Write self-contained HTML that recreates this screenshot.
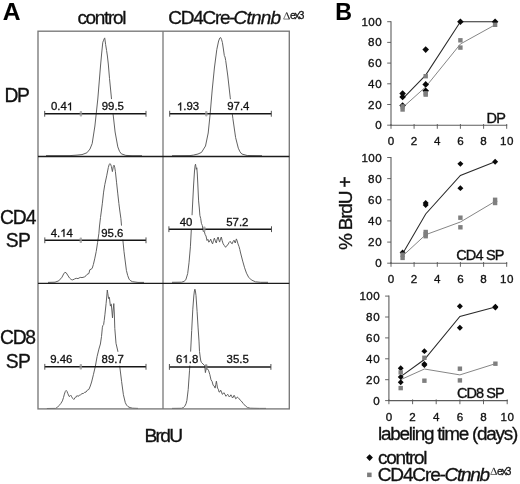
<!DOCTYPE html>
<html><head><meta charset="utf-8"><title>Figure</title>
<style>
html,body{margin:0;padding:0;background:#fff;}
body{width:520px;height:484px;overflow:hidden;font-family:"Liberation Sans", sans-serif;}
svg{display:block;position:absolute;left:0;top:0;will-change:transform;}
text{font-family:"Liberation Sans", sans-serif;}
</style></head><body>
<svg width="520" height="484" viewBox="0 0 520 484">
<rect x="0" y="0" width="520" height="484" fill="#ffffff"/>
<polyline points="46.0,155.6 70.0,155.6 76.0,155.2 82.0,154.6 86.9,152.8 90.0,149.0 92.2,143.5 94.9,126.0 97.8,99.0 100.5,66.0 101.6,54.0 102.3,47.0 102.8,42.3 103.6,40.2 104.3,38.6 104.7,37.9 105.0,40.0 105.6,44.4 106.6,50.6 107.4,56.0 108.3,64.0 109.5,78.4 112.4,107.9 115.1,132.0 117.8,146.9 119.5,151.3 121.3,153.8 125.8,155.4 132.0,155.7 142.0,155.7" fill="none" stroke="#585858" stroke-width="0.95" stroke-linejoin="round"/>
<polyline points="172.0,155.7 190.0,155.6 193.4,155.1 198.0,154.0 201.5,152.4 205.5,146.0 208.2,133.0 210.1,114.5 212.2,90.0 214.4,68.0 216.8,49.5 218.6,41.0 219.8,38.0 220.6,37.5 221.5,39.3 222.4,42.5 223.4,49.0 224.3,55.5 225.0,57.0 225.7,60.5 227.8,76.0 230.2,97.2 232.9,118.7 235.6,137.5 238.3,148.2 240.0,151.8 241.8,154.0 247.2,155.5 262.0,155.7" fill="none" stroke="#585858" stroke-width="0.95" stroke-linejoin="round"/>
<polyline points="48.0,282.4 55.0,282.2 58.8,280.8 62.0,277.2 63.6,274.0 64.9,272.3 66.2,272.8 67.6,275.0 69.5,278.0 71.2,279.5 72.7,279.9 74.5,279.0 76.2,278.3 78.0,278.6 80.2,277.4 82.0,277.6 84.3,277.0 86.0,275.8 87.0,274.4 88.9,273.5 89.8,269.8 91.0,269.2 92.2,268.4 93.4,264.4 94.7,258.9 96.2,251.6 97.6,242.4 98.9,233.3 99.5,226.0 100.5,217.5 102.3,203.8 103.6,192.1 104.8,184.6 106.7,175.8 108.3,167.6 109.1,164.8 109.8,163.6 110.6,164.2 111.4,166.5 112.4,171.6 113.3,166.5 114.0,165.2 114.7,167.2 115.4,171.6 116.6,182.8 117.8,193.9 118.6,201.0 118.9,203.6 119.7,210.0 120.9,218.5 121.9,230.1 124.0,251.6 126.4,270.4 127.7,275.5 129.1,279.2 130.8,280.9 132.6,281.7 138.0,282.4 144.0,282.4" fill="none" stroke="#585858" stroke-width="0.95" stroke-linejoin="round"/>
<polyline points="172.0,282.3 181.5,282.2 184.0,281.4 185.8,279.8 187.7,273.5 189.0,262.8 190.4,246.8 191.4,228.0 192.5,206.0 193.6,185.0 194.5,171.0 195.1,165.5 195.5,164.2 195.9,166.5 196.3,169.3 196.8,167.8 197.3,174.0 197.8,184.0 198.6,200.9 199.3,208.0 199.9,215.5 200.7,218.5 201.4,223.3 202.3,225.5 203.3,231.6 204.2,231.0 205.1,234.4 206.0,236.0 207.0,240.5 207.9,239.3 208.8,242.2 209.8,241.0 210.7,239.1 211.6,242.0 212.6,243.9 213.5,240.5 214.4,238.1 215.3,241.0 216.3,243.0 217.2,239.0 218.1,237.0 218.9,240.0 219.6,242.1 220.5,239.0 221.3,237.0 222.2,240.8 223.2,243.9 224.4,245.6 225.6,247.3 226.8,245.5 228.0,244.7 229.1,242.4 230.2,241.3 231.2,243.0 232.1,243.9 233.1,241.5 234.0,240.2 234.7,242.0 235.3,243.0 235.9,240.5 236.4,238.9 237.2,241.0 238.0,243.9 239.0,246.5 239.8,249.5 240.6,253.0 242.7,261.1 244.6,267.8 246.5,273.2 248.6,277.2 251.3,279.9 255.4,281.8 260.7,282.3 268.0,282.3" fill="none" stroke="#585858" stroke-width="0.95" stroke-linejoin="round"/>
<polyline points="46.9,408.5 55.7,408.4 57.5,407.2 59.0,405.6 60.8,403.5 62.4,400.9 63.5,397.5 64.4,394.1 65.3,391.5 66.2,390.4 67.0,391.4 67.8,393.5 69.1,396.4 70.0,396.2 70.9,395.3 71.7,396.8 72.5,398.2 73.8,399.5 74.9,398.0 75.9,396.6 76.6,396.9 77.2,395.5 78.0,396.4 78.5,396.2 79.5,395.0 80.6,394.8 82.0,393.6 83.3,393.5 84.7,392.3 86.0,392.1 87.3,390.2 88.9,389.4 90.3,386.0 91.6,382.0 93.4,374.7 95.3,366.5 97.1,356.5 98.9,349.1 100.4,344.0 101.5,336.5 102.4,327.2 103.0,325.3 103.6,324.7 104.2,320.5 104.9,314.8 106.1,303.6 106.8,296.0 107.3,290.0 107.8,293.5 108.6,298.6 109.0,297.2 109.4,297.4 110.4,306.1 110.9,304.5 111.3,304.2 112.0,312.0 112.5,317.9 113.0,311.0 113.8,303.6 114.3,313.0 114.8,328.4 116.0,343.3 117.8,351.0 119.7,366.0 121.6,381.5 123.4,394.7 125.3,402.7 126.5,405.0 128.0,406.6 130.0,407.6 132.6,408.2 138.0,408.4" fill="none" stroke="#585858" stroke-width="0.95" stroke-linejoin="round"/>
<polyline points="172.0,408.4 181.5,408.3 183.3,407.6 184.7,406.3 186.0,403.8 186.9,400.4 188.2,389.6 189.5,370.8 190.6,352.0 191.7,330.5 192.8,309.2 193.8,296.0 194.4,291.0 194.9,289.2 195.4,291.0 196.0,295.6 197.1,311.7 198.1,327.9 199.0,341.1 199.5,351.5 200.2,357.0 200.8,361.0 201.6,362.6 203.0,364.0 204.7,365.6 205.0,369.0 205.4,372.6 205.9,370.0 206.6,368.4 207.6,369.0 208.7,370.8 209.8,374.5 211.0,379.8 212.1,381.5 213.2,385.4 214.2,386.0 215.1,388.1 215.8,384.5 216.4,381.2 217.0,384.8 217.5,388.1 218.3,389.2 219.1,392.1 219.9,391.8 220.7,390.2 221.5,392.0 222.3,394.3 223.1,393.8 223.9,392.7 224.9,394.2 225.8,396.2 226.8,395.5 227.7,394.3 228.5,395.4 229.3,397.0 230.1,396.2 230.9,394.8 231.7,396.2 232.5,398.0 233.3,397.0 234.1,395.3 234.9,396.8 235.7,398.8 236.6,398.2 237.4,397.0 238.2,397.7 239.0,398.8 241.1,400.8 243.3,403.6 245.5,406.0 247.6,407.5 250.2,408.2 259.4,408.4 266.0,408.4" fill="none" stroke="#585858" stroke-width="0.95" stroke-linejoin="round"/>
<rect x="50.0" y="99.1" width="23.8" height="14.0" fill="#fff"/>
<rect x="100.9" y="99.1" width="23.8" height="14.0" fill="#fff"/>
<rect x="176.0" y="99.2" width="23.8" height="14.0" fill="#fff"/>
<rect x="226.3" y="99.2" width="23.8" height="14.0" fill="#fff"/>
<rect x="49.8" y="225.6" width="23.8" height="14.0" fill="#fff"/>
<rect x="100.3" y="225.6" width="23.8" height="14.0" fill="#fff"/>
<rect x="178.8" y="215.2" width="14.3" height="14.0" fill="#fff"/>
<rect x="225.4" y="215.2" width="23.8" height="14.0" fill="#fff"/>
<rect x="49.3" y="351.8" width="23.8" height="14.0" fill="#fff"/>
<rect x="100.7" y="351.8" width="23.8" height="14.0" fill="#fff"/>
<rect x="175.2" y="351.6" width="23.8" height="14.0" fill="#fff"/>
<rect x="225.7" y="351.6" width="23.8" height="14.0" fill="#fff"/>
<rect x="38.0" y="31.2" width="251.3" height="377.7" fill="none" stroke="#787878" stroke-width="1.35"/>
<line x1="163.0" y1="31.2" x2="163.0" y2="408.9" stroke="#787878" stroke-width="1.3"/>
<line x1="38.0" y1="156.5" x2="289.3" y2="156.5" stroke="#1c1c1c" stroke-width="1.35"/>
<line x1="38.0" y1="283.3" x2="289.3" y2="283.3" stroke="#1c1c1c" stroke-width="1.35"/>
<line x1="44.7" y1="113.8" x2="146.0" y2="113.8" stroke="#161616" stroke-width="1.45"/>
<line x1="44.7" y1="110.9" x2="44.7" y2="116.7" stroke="#4a4a4a" stroke-width="0.95"/>
<line x1="146.0" y1="110.9" x2="146.0" y2="116.7" stroke="#4a4a4a" stroke-width="0.95"/>
<rect x="79.7" y="111.1" width="2.4" height="5.4" rx="0.8" fill="#9a9a9a" fill-opacity="0.8"/>
<line x1="169.7" y1="113.8" x2="271.3" y2="113.8" stroke="#161616" stroke-width="1.45"/>
<line x1="169.7" y1="110.8" x2="169.7" y2="116.7" stroke="#4a4a4a" stroke-width="0.95"/>
<line x1="271.3" y1="110.8" x2="271.3" y2="116.7" stroke="#4a4a4a" stroke-width="0.95"/>
<rect x="205.1" y="111.0" width="2.4" height="5.4" rx="0.8" fill="#9a9a9a" fill-opacity="0.8"/>
<line x1="44.8" y1="240.3" x2="146.0" y2="240.3" stroke="#161616" stroke-width="1.45"/>
<line x1="44.8" y1="237.4" x2="44.8" y2="243.2" stroke="#4a4a4a" stroke-width="0.95"/>
<line x1="146.0" y1="237.4" x2="146.0" y2="243.2" stroke="#4a4a4a" stroke-width="0.95"/>
<rect x="79.6" y="237.6" width="2.4" height="5.4" rx="0.8" fill="#9a9a9a" fill-opacity="0.8"/>
<line x1="168.9" y1="229.2" x2="271.5" y2="229.2" stroke="#161616" stroke-width="1.45"/>
<line x1="168.9" y1="226.3" x2="168.9" y2="232.1" stroke="#4a4a4a" stroke-width="0.95"/>
<line x1="271.5" y1="226.3" x2="271.5" y2="232.1" stroke="#4a4a4a" stroke-width="0.95"/>
<rect x="203.1" y="226.5" width="2.4" height="5.4" rx="0.8" fill="#9a9a9a" fill-opacity="0.8"/>
<line x1="44.8" y1="366.8" x2="146.0" y2="366.8" stroke="#161616" stroke-width="1.45"/>
<line x1="44.8" y1="363.9" x2="44.8" y2="369.7" stroke="#4a4a4a" stroke-width="0.95"/>
<line x1="146.0" y1="363.9" x2="146.0" y2="369.7" stroke="#4a4a4a" stroke-width="0.95"/>
<rect x="79.6" y="364.1" width="2.4" height="5.4" rx="0.8" fill="#9a9a9a" fill-opacity="0.8"/>
<line x1="169.4" y1="366.9" x2="270.9" y2="366.9" stroke="#161616" stroke-width="1.45"/>
<line x1="169.4" y1="364.0" x2="169.4" y2="369.8" stroke="#4a4a4a" stroke-width="0.95"/>
<line x1="270.9" y1="364.0" x2="270.9" y2="369.8" stroke="#4a4a4a" stroke-width="0.95"/>
<rect x="205.0" y="364.2" width="2.4" height="5.4" rx="0.8" fill="#7a7a7a" fill-opacity="0.8"/>
<text x="50.9" y="110.3" font-size="11.40" text-anchor="start" font-weight="normal" font-style="normal" fill="#111" stroke="#111" stroke-width="0.30" >0</text>
<text x="57.2" y="110.3" font-size="11.40" text-anchor="start" font-weight="normal" font-style="normal" fill="#111" stroke="#111" stroke-width="0.30" >.</text>
<text x="60.4" y="110.3" font-size="11.40" text-anchor="start" font-weight="normal" font-style="normal" fill="#111" stroke="#111" stroke-width="0.30" >4</text>
<path d="M70.99 110.30L69.99 110.30L69.99 104.18Q69.36 104.70 67.99 105.34L67.99 104.41Q69.58 103.68 70.33 102.46L70.99 102.46 Z" fill="#111" stroke="#111" stroke-width="0.30"/>
<text x="101.8" y="110.3" font-size="11.40" text-anchor="start" font-weight="normal" font-style="normal" fill="#111" stroke="#111" stroke-width="0.30" >9</text>
<text x="108.1" y="110.3" font-size="11.40" text-anchor="start" font-weight="normal" font-style="normal" fill="#111" stroke="#111" stroke-width="0.30" >9</text>
<text x="114.5" y="110.3" font-size="11.40" text-anchor="start" font-weight="normal" font-style="normal" fill="#111" stroke="#111" stroke-width="0.30" >.</text>
<text x="117.6" y="110.3" font-size="11.40" text-anchor="start" font-weight="normal" font-style="normal" fill="#111" stroke="#111" stroke-width="0.30" >5</text>
<path d="M181.15 110.40L180.15 110.40L180.15 104.28Q179.52 104.80 178.14 105.44L178.14 104.51Q179.74 103.78 180.48 102.56L181.15 102.56 Z" fill="#111" stroke="#111" stroke-width="0.30"/>
<text x="183.2" y="110.4" font-size="11.40" text-anchor="start" font-weight="normal" font-style="normal" fill="#111" stroke="#111" stroke-width="0.30" >.</text>
<text x="186.4" y="110.4" font-size="11.40" text-anchor="start" font-weight="normal" font-style="normal" fill="#111" stroke="#111" stroke-width="0.30" >9</text>
<text x="192.7" y="110.4" font-size="11.40" text-anchor="start" font-weight="normal" font-style="normal" fill="#111" stroke="#111" stroke-width="0.30" >3</text>
<text x="227.2" y="110.4" font-size="11.40" text-anchor="start" font-weight="normal" font-style="normal" fill="#111" stroke="#111" stroke-width="0.30" >9</text>
<text x="233.5" y="110.4" font-size="11.40" text-anchor="start" font-weight="normal" font-style="normal" fill="#111" stroke="#111" stroke-width="0.30" >7</text>
<text x="239.9" y="110.4" font-size="11.40" text-anchor="start" font-weight="normal" font-style="normal" fill="#111" stroke="#111" stroke-width="0.30" >.</text>
<text x="243.0" y="110.4" font-size="11.40" text-anchor="start" font-weight="normal" font-style="normal" fill="#111" stroke="#111" stroke-width="0.30" >4</text>
<text x="50.7" y="236.8" font-size="11.40" text-anchor="start" font-weight="normal" font-style="normal" fill="#111" stroke="#111" stroke-width="0.30" >4</text>
<text x="57.0" y="236.8" font-size="11.40" text-anchor="start" font-weight="normal" font-style="normal" fill="#111" stroke="#111" stroke-width="0.30" >.</text>
<path d="M64.45 236.80L63.45 236.80L63.45 230.68Q62.82 231.20 61.45 231.84L61.45 230.91Q63.05 230.18 63.79 228.96L64.45 228.96 Z" fill="#111" stroke="#111" stroke-width="0.30"/>
<text x="66.5" y="236.8" font-size="11.40" text-anchor="start" font-weight="normal" font-style="normal" fill="#111" stroke="#111" stroke-width="0.30" >4</text>
<text x="101.2" y="236.8" font-size="11.40" text-anchor="start" font-weight="normal" font-style="normal" fill="#111" stroke="#111" stroke-width="0.30" >9</text>
<text x="107.5" y="236.8" font-size="11.40" text-anchor="start" font-weight="normal" font-style="normal" fill="#111" stroke="#111" stroke-width="0.30" >5</text>
<text x="113.9" y="236.8" font-size="11.40" text-anchor="start" font-weight="normal" font-style="normal" fill="#111" stroke="#111" stroke-width="0.30" >.</text>
<text x="117.0" y="236.8" font-size="11.40" text-anchor="start" font-weight="normal" font-style="normal" fill="#111" stroke="#111" stroke-width="0.30" >6</text>
<text x="179.7" y="226.4" font-size="11.40" text-anchor="start" font-weight="normal" font-style="normal" fill="#111" stroke="#111" stroke-width="0.30" >4</text>
<text x="186.0" y="226.4" font-size="11.40" text-anchor="start" font-weight="normal" font-style="normal" fill="#111" stroke="#111" stroke-width="0.30" >0</text>
<text x="226.3" y="226.4" font-size="11.40" text-anchor="start" font-weight="normal" font-style="normal" fill="#111" stroke="#111" stroke-width="0.30" >5</text>
<text x="232.6" y="226.4" font-size="11.40" text-anchor="start" font-weight="normal" font-style="normal" fill="#111" stroke="#111" stroke-width="0.30" >7</text>
<text x="239.0" y="226.4" font-size="11.40" text-anchor="start" font-weight="normal" font-style="normal" fill="#111" stroke="#111" stroke-width="0.30" >.</text>
<text x="242.1" y="226.4" font-size="11.40" text-anchor="start" font-weight="normal" font-style="normal" fill="#111" stroke="#111" stroke-width="0.30" >2</text>
<text x="50.2" y="363.0" font-size="11.40" text-anchor="start" font-weight="normal" font-style="normal" fill="#111" stroke="#111" stroke-width="0.30" >9</text>
<text x="56.5" y="363.0" font-size="11.40" text-anchor="start" font-weight="normal" font-style="normal" fill="#111" stroke="#111" stroke-width="0.30" >.</text>
<text x="59.7" y="363.0" font-size="11.40" text-anchor="start" font-weight="normal" font-style="normal" fill="#111" stroke="#111" stroke-width="0.30" >4</text>
<text x="66.0" y="363.0" font-size="11.40" text-anchor="start" font-weight="normal" font-style="normal" fill="#111" stroke="#111" stroke-width="0.30" >6</text>
<text x="101.6" y="363.0" font-size="11.40" text-anchor="start" font-weight="normal" font-style="normal" fill="#111" stroke="#111" stroke-width="0.30" >8</text>
<text x="107.9" y="363.0" font-size="11.40" text-anchor="start" font-weight="normal" font-style="normal" fill="#111" stroke="#111" stroke-width="0.30" >9</text>
<text x="114.3" y="363.0" font-size="11.40" text-anchor="start" font-weight="normal" font-style="normal" fill="#111" stroke="#111" stroke-width="0.30" >.</text>
<text x="117.4" y="363.0" font-size="11.40" text-anchor="start" font-weight="normal" font-style="normal" fill="#111" stroke="#111" stroke-width="0.30" >7</text>
<text x="176.1" y="362.8" font-size="11.40" text-anchor="start" font-weight="normal" font-style="normal" fill="#111" stroke="#111" stroke-width="0.30" >6</text>
<path d="M186.69 362.80L185.68 362.80L185.68 356.68Q185.05 357.20 183.68 357.84L183.68 356.91Q185.28 356.18 186.02 354.96L186.69 354.96 Z" fill="#111" stroke="#111" stroke-width="0.30"/>
<text x="188.8" y="362.8" font-size="11.40" text-anchor="start" font-weight="normal" font-style="normal" fill="#111" stroke="#111" stroke-width="0.30" >.</text>
<text x="191.9" y="362.8" font-size="11.40" text-anchor="start" font-weight="normal" font-style="normal" fill="#111" stroke="#111" stroke-width="0.30" >8</text>
<text x="226.6" y="362.8" font-size="11.40" text-anchor="start" font-weight="normal" font-style="normal" fill="#111" stroke="#111" stroke-width="0.30" >3</text>
<text x="232.9" y="362.8" font-size="11.40" text-anchor="start" font-weight="normal" font-style="normal" fill="#111" stroke="#111" stroke-width="0.30" >5</text>
<text x="239.3" y="362.8" font-size="11.40" text-anchor="start" font-weight="normal" font-style="normal" fill="#111" stroke="#111" stroke-width="0.30" >.</text>
<text x="242.4" y="362.8" font-size="11.40" text-anchor="start" font-weight="normal" font-style="normal" fill="#111" stroke="#111" stroke-width="0.30" >5</text>
<text x="2.8" y="20.3" font-size="24.60" text-anchor="start" font-weight="bold" font-style="normal" fill="#000" stroke="#000" stroke-width="0.10" >A</text>
<text x="335.3" y="19.8" font-size="23.20" text-anchor="start" font-weight="bold" font-style="normal" fill="#000" stroke="#000" stroke-width="0.10" >B</text>
<text x="77.4" y="23.9" font-size="19.00" text-anchor="start" font-weight="normal" font-style="normal" fill="#111" stroke="#111" stroke-width="0.32" textLength="49.0" lengthAdjust="spacing" >control</text>
<text x="168.2" y="23.9" font-size="19.00" text-anchor="start" font-weight="normal" font-style="normal" fill="#111" stroke="#111" stroke-width="0.32" textLength="67.4" lengthAdjust="spacing" >CD4Cre-</text>
<text x="233.6" y="23.9" font-size="19.00" text-anchor="start" font-weight="normal" font-style="italic" fill="#111" stroke="#111" stroke-width="0.32" textLength="47.6" lengthAdjust="spacing" >Ctnnb</text>
<path d="M283.6 19.1L286.6 12.4L289.6 19.1Z" fill="none" stroke="#444" stroke-width="0.7" stroke-linejoin="miter"/>
<line x1="286.7" y1="12.7" x2="289.4" y2="19.1" stroke="#333" stroke-width="1.1"/>
<text x="289.9" y="19.2" font-size="10.60" text-anchor="start" font-weight="normal" font-style="normal" fill="#111" stroke="#111" stroke-width="0.30" textLength="14.5" lengthAdjust="spacing" >ex3</text>
<text x="4.6" y="102.4" font-size="19.30" text-anchor="start" font-weight="normal" font-style="normal" fill="#111" stroke="#111" stroke-width="0.32" textLength="25.3" lengthAdjust="spacing" >DP</text>
<text x="0.0" y="223.6" font-size="19.30" text-anchor="start" font-weight="normal" font-style="normal" fill="#111" stroke="#111" stroke-width="0.32" textLength="36.4" lengthAdjust="spacing" >CD4</text>
<text x="5.8" y="246.9" font-size="19.30" text-anchor="start" font-weight="normal" font-style="normal" fill="#111" stroke="#111" stroke-width="0.32" textLength="25.0" lengthAdjust="spacing" >SP</text>
<text x="0.0" y="344.2" font-size="19.30" text-anchor="start" font-weight="normal" font-style="normal" fill="#111" stroke="#111" stroke-width="0.32" textLength="36.0" lengthAdjust="spacing" >CD8</text>
<text x="5.8" y="368.1" font-size="19.30" text-anchor="start" font-weight="normal" font-style="normal" fill="#111" stroke="#111" stroke-width="0.32" textLength="25.0" lengthAdjust="spacing" >SP</text>
<text x="144.5" y="441.5" font-size="19.20" text-anchor="start" font-weight="normal" font-style="normal" fill="#111" stroke="#111" stroke-width="0.32" textLength="38.6" lengthAdjust="spacing" >BrdU</text>
<line x1="391.0" y1="21.2" x2="391.0" y2="125.7" stroke="#5c5c5c" stroke-width="1.1"/>
<line x1="390.5" y1="125.2" x2="507.2" y2="125.2" stroke="#5c5c5c" stroke-width="1.15"/>
<line x1="387.2" y1="125.2" x2="391.0" y2="125.2" stroke="#555" stroke-width="0.9"/>
<text x="381.7" y="129.2" font-size="11.60" text-anchor="end" font-weight="normal" font-style="normal" fill="#111" stroke="#111" stroke-width="0.33" >0</text>
<line x1="387.2" y1="104.5" x2="391.0" y2="104.5" stroke="#555" stroke-width="0.9"/>
<text x="381.7" y="108.5" font-size="11.60" text-anchor="end" font-weight="normal" font-style="normal" fill="#111" stroke="#111" stroke-width="0.33" textLength="13.6" lengthAdjust="spacing" >20</text>
<line x1="387.2" y1="83.8" x2="391.0" y2="83.8" stroke="#555" stroke-width="0.9"/>
<text x="381.7" y="87.8" font-size="11.60" text-anchor="end" font-weight="normal" font-style="normal" fill="#111" stroke="#111" stroke-width="0.33" textLength="13.6" lengthAdjust="spacing" >40</text>
<line x1="387.2" y1="63.1" x2="391.0" y2="63.1" stroke="#555" stroke-width="0.9"/>
<text x="381.7" y="67.1" font-size="11.60" text-anchor="end" font-weight="normal" font-style="normal" fill="#111" stroke="#111" stroke-width="0.33" textLength="13.6" lengthAdjust="spacing" >60</text>
<line x1="387.2" y1="42.4" x2="391.0" y2="42.4" stroke="#555" stroke-width="0.9"/>
<text x="381.7" y="46.4" font-size="11.60" text-anchor="end" font-weight="normal" font-style="normal" fill="#111" stroke="#111" stroke-width="0.33" textLength="13.6" lengthAdjust="spacing" >80</text>
<line x1="387.2" y1="21.7" x2="391.0" y2="21.7" stroke="#555" stroke-width="0.9"/>
<text x="381.7" y="25.7" font-size="11.60" text-anchor="end" font-weight="normal" font-style="normal" fill="#111" stroke="#111" stroke-width="0.33" textLength="20.2" lengthAdjust="spacing" >100</text>
<line x1="391.0" y1="124.0" x2="391.0" y2="128.8" stroke="#555" stroke-width="0.9"/>
<text x="391.0" y="145.1" font-size="11.60" text-anchor="middle" font-weight="normal" font-style="normal" fill="#111" stroke="#111" stroke-width="0.33" >0</text>
<line x1="414.1" y1="124.0" x2="414.1" y2="128.8" stroke="#555" stroke-width="0.9"/>
<text x="414.1" y="145.1" font-size="11.60" text-anchor="middle" font-weight="normal" font-style="normal" fill="#111" stroke="#111" stroke-width="0.33" >2</text>
<line x1="437.3" y1="124.0" x2="437.3" y2="128.8" stroke="#555" stroke-width="0.9"/>
<text x="437.3" y="145.1" font-size="11.60" text-anchor="middle" font-weight="normal" font-style="normal" fill="#111" stroke="#111" stroke-width="0.33" >4</text>
<line x1="460.4" y1="124.0" x2="460.4" y2="128.8" stroke="#555" stroke-width="0.9"/>
<text x="460.4" y="145.1" font-size="11.60" text-anchor="middle" font-weight="normal" font-style="normal" fill="#111" stroke="#111" stroke-width="0.33" >6</text>
<line x1="483.6" y1="124.0" x2="483.6" y2="128.8" stroke="#555" stroke-width="0.9"/>
<text x="483.6" y="145.1" font-size="11.60" text-anchor="middle" font-weight="normal" font-style="normal" fill="#111" stroke="#111" stroke-width="0.33" >8</text>
<line x1="506.7" y1="124.0" x2="506.7" y2="128.8" stroke="#555" stroke-width="0.9"/>
<text x="506.7" y="145.1" font-size="11.60" text-anchor="middle" font-weight="normal" font-style="normal" fill="#111" stroke="#111" stroke-width="0.33" textLength="13.6" lengthAdjust="spacing" >10</text>
<polyline points="402.6,107.6 425.7,86.9 460.4,44.0 495.1,24.8" fill="none" stroke="#868686" stroke-width="1.0"/>
<polyline points="402.6,98.8 425.7,75.1 460.4,21.7 495.1,21.7" fill="none" stroke="#2a2a2a" stroke-width="1.05"/>
<path d="M402.6 90.2L405.9 93.5L402.6 96.8L399.3 93.5Z" fill="#0a0a0a"/>
<path d="M402.6 93.6L405.9 96.9L402.6 100.2L399.3 96.9Z" fill="#0a0a0a"/>
<path d="M402.6 102.2L405.9 105.5L402.6 108.8L399.3 105.5Z" fill="#0a0a0a"/>
<path d="M425.7 46.3L429.0 49.6L425.7 52.9L422.4 49.6Z" fill="#0a0a0a"/>
<path d="M425.7 81.1L429.0 84.4L425.7 87.7L422.4 84.4Z" fill="#0a0a0a"/>
<path d="M425.7 87.5L429.0 90.8L425.7 94.1L422.4 90.8Z" fill="#0a0a0a"/>
<path d="M460.4 18.4L463.7 21.7L460.4 25.0L457.1 21.7Z" fill="#0a0a0a"/>
<path d="M495.1 18.4L498.4 21.7L495.1 25.0L491.8 21.7Z" fill="#0a0a0a"/>
<rect x="400.4" y="104.2" width="4.4" height="4.4" fill="#7f7f7f"/>
<rect x="400.4" y="107.3" width="4.4" height="4.4" fill="#7f7f7f"/>
<rect x="423.5" y="74.0" width="4.4" height="4.4" fill="#7f7f7f"/>
<rect x="423.5" y="91.1" width="4.4" height="4.4" fill="#7f7f7f"/>
<rect x="423.5" y="92.4" width="4.4" height="4.4" fill="#7f7f7f"/>
<rect x="458.2" y="38.1" width="4.4" height="4.4" fill="#7f7f7f"/>
<rect x="458.2" y="45.4" width="4.4" height="4.4" fill="#7f7f7f"/>
<rect x="492.9" y="22.6" width="4.4" height="4.4" fill="#7f7f7f"/>
<text x="486.6" y="123.3" font-size="14.50" text-anchor="start" font-weight="normal" font-style="normal" fill="#111" stroke="#111" stroke-width="0.35" textLength="19.4" lengthAdjust="spacing" >DP</text>
<line x1="391.0" y1="157.0" x2="391.0" y2="263.7" stroke="#5c5c5c" stroke-width="1.1"/>
<line x1="390.5" y1="263.2" x2="507.2" y2="263.2" stroke="#5c5c5c" stroke-width="1.15"/>
<line x1="387.2" y1="263.2" x2="391.0" y2="263.2" stroke="#555" stroke-width="0.9"/>
<text x="381.7" y="267.2" font-size="11.60" text-anchor="end" font-weight="normal" font-style="normal" fill="#111" stroke="#111" stroke-width="0.33" >0</text>
<line x1="387.2" y1="242.1" x2="391.0" y2="242.1" stroke="#555" stroke-width="0.9"/>
<text x="381.7" y="246.1" font-size="11.60" text-anchor="end" font-weight="normal" font-style="normal" fill="#111" stroke="#111" stroke-width="0.33" textLength="13.6" lengthAdjust="spacing" >20</text>
<line x1="387.2" y1="220.9" x2="391.0" y2="220.9" stroke="#555" stroke-width="0.9"/>
<text x="381.7" y="224.9" font-size="11.60" text-anchor="end" font-weight="normal" font-style="normal" fill="#111" stroke="#111" stroke-width="0.33" textLength="13.6" lengthAdjust="spacing" >40</text>
<line x1="387.2" y1="199.8" x2="391.0" y2="199.8" stroke="#555" stroke-width="0.9"/>
<text x="381.7" y="203.8" font-size="11.60" text-anchor="end" font-weight="normal" font-style="normal" fill="#111" stroke="#111" stroke-width="0.33" textLength="13.6" lengthAdjust="spacing" >60</text>
<line x1="387.2" y1="178.6" x2="391.0" y2="178.6" stroke="#555" stroke-width="0.9"/>
<text x="381.7" y="182.6" font-size="11.60" text-anchor="end" font-weight="normal" font-style="normal" fill="#111" stroke="#111" stroke-width="0.33" textLength="13.6" lengthAdjust="spacing" >80</text>
<line x1="387.2" y1="157.5" x2="391.0" y2="157.5" stroke="#555" stroke-width="0.9"/>
<text x="381.7" y="161.5" font-size="11.60" text-anchor="end" font-weight="normal" font-style="normal" fill="#111" stroke="#111" stroke-width="0.33" textLength="20.2" lengthAdjust="spacing" >100</text>
<line x1="391.0" y1="262.0" x2="391.0" y2="266.8" stroke="#555" stroke-width="0.9"/>
<text x="391.0" y="283.1" font-size="11.60" text-anchor="middle" font-weight="normal" font-style="normal" fill="#111" stroke="#111" stroke-width="0.33" >0</text>
<line x1="414.1" y1="262.0" x2="414.1" y2="266.8" stroke="#555" stroke-width="0.9"/>
<text x="414.1" y="283.1" font-size="11.60" text-anchor="middle" font-weight="normal" font-style="normal" fill="#111" stroke="#111" stroke-width="0.33" >2</text>
<line x1="437.3" y1="262.0" x2="437.3" y2="266.8" stroke="#555" stroke-width="0.9"/>
<text x="437.3" y="283.1" font-size="11.60" text-anchor="middle" font-weight="normal" font-style="normal" fill="#111" stroke="#111" stroke-width="0.33" >4</text>
<line x1="460.4" y1="262.0" x2="460.4" y2="266.8" stroke="#555" stroke-width="0.9"/>
<text x="460.4" y="283.1" font-size="11.60" text-anchor="middle" font-weight="normal" font-style="normal" fill="#111" stroke="#111" stroke-width="0.33" >6</text>
<line x1="483.6" y1="262.0" x2="483.6" y2="266.8" stroke="#555" stroke-width="0.9"/>
<text x="483.6" y="283.1" font-size="11.60" text-anchor="middle" font-weight="normal" font-style="normal" fill="#111" stroke="#111" stroke-width="0.33" >8</text>
<line x1="506.7" y1="262.0" x2="506.7" y2="266.8" stroke="#555" stroke-width="0.9"/>
<text x="506.7" y="283.1" font-size="11.60" text-anchor="middle" font-weight="normal" font-style="normal" fill="#111" stroke="#111" stroke-width="0.33" textLength="13.6" lengthAdjust="spacing" >10</text>
<polyline points="402.6,256.0 425.7,234.7 460.4,222.0 495.1,201.4" fill="none" stroke="#868686" stroke-width="1.0"/>
<polyline points="402.6,253.7 425.7,214.0 460.4,175.5 495.1,161.7" fill="none" stroke="#2a2a2a" stroke-width="1.05"/>
<path d="M402.6 249.4L405.5 252.4L402.6 255.4L399.6 252.4Z" fill="#0a0a0a"/>
<path d="M425.7 200.0L428.7 203.0L425.7 205.9L422.7 203.0Z" fill="#0a0a0a"/>
<path d="M425.7 202.1L428.7 205.1L425.7 208.0L422.7 205.1Z" fill="#0a0a0a"/>
<path d="M460.4 160.9L463.4 163.8L460.4 166.8L457.4 163.8Z" fill="#0a0a0a"/>
<path d="M460.4 185.2L463.4 188.2L460.4 191.1L457.4 188.2Z" fill="#0a0a0a"/>
<path d="M495.1 158.8L498.1 161.7L495.1 164.7L492.2 161.7Z" fill="#0a0a0a"/>
<rect x="400.4" y="252.5" width="4.4" height="4.4" fill="#7f7f7f"/>
<rect x="400.4" y="255.7" width="4.4" height="4.4" fill="#7f7f7f"/>
<rect x="423.5" y="229.8" width="4.4" height="4.4" fill="#7f7f7f"/>
<rect x="423.5" y="231.9" width="4.4" height="4.4" fill="#7f7f7f"/>
<rect x="423.5" y="234.0" width="4.4" height="4.4" fill="#7f7f7f"/>
<rect x="458.2" y="215.5" width="4.4" height="4.4" fill="#7f7f7f"/>
<rect x="458.2" y="225.1" width="4.4" height="4.4" fill="#7f7f7f"/>
<rect x="492.9" y="197.6" width="4.4" height="4.4" fill="#7f7f7f"/>
<rect x="492.9" y="200.8" width="4.4" height="4.4" fill="#7f7f7f"/>
<text x="456.2" y="259.7" font-size="14.50" text-anchor="start" font-weight="normal" font-style="normal" fill="#111" stroke="#111" stroke-width="0.35" textLength="48.2" lengthAdjust="spacing" >CD4 SP</text>
<line x1="388.9" y1="295.6" x2="388.9" y2="401.1" stroke="#5c5c5c" stroke-width="1.1"/>
<line x1="388.4" y1="400.6" x2="507.7" y2="400.6" stroke="#5c5c5c" stroke-width="1.15"/>
<line x1="385.1" y1="400.6" x2="388.9" y2="400.6" stroke="#555" stroke-width="0.9"/>
<text x="379.6" y="404.6" font-size="11.60" text-anchor="end" font-weight="normal" font-style="normal" fill="#111" stroke="#111" stroke-width="0.33" >0</text>
<line x1="385.1" y1="379.7" x2="388.9" y2="379.7" stroke="#555" stroke-width="0.9"/>
<text x="379.6" y="383.7" font-size="11.60" text-anchor="end" font-weight="normal" font-style="normal" fill="#111" stroke="#111" stroke-width="0.33" textLength="13.6" lengthAdjust="spacing" >20</text>
<line x1="385.1" y1="358.8" x2="388.9" y2="358.8" stroke="#555" stroke-width="0.9"/>
<text x="379.6" y="362.8" font-size="11.60" text-anchor="end" font-weight="normal" font-style="normal" fill="#111" stroke="#111" stroke-width="0.33" textLength="13.6" lengthAdjust="spacing" >40</text>
<line x1="385.1" y1="337.9" x2="388.9" y2="337.9" stroke="#555" stroke-width="0.9"/>
<text x="379.6" y="341.9" font-size="11.60" text-anchor="end" font-weight="normal" font-style="normal" fill="#111" stroke="#111" stroke-width="0.33" textLength="13.6" lengthAdjust="spacing" >60</text>
<line x1="385.1" y1="317.0" x2="388.9" y2="317.0" stroke="#555" stroke-width="0.9"/>
<text x="379.6" y="321.0" font-size="11.60" text-anchor="end" font-weight="normal" font-style="normal" fill="#111" stroke="#111" stroke-width="0.33" textLength="13.6" lengthAdjust="spacing" >80</text>
<line x1="385.1" y1="296.1" x2="388.9" y2="296.1" stroke="#555" stroke-width="0.9"/>
<text x="379.6" y="300.1" font-size="11.60" text-anchor="end" font-weight="normal" font-style="normal" fill="#111" stroke="#111" stroke-width="0.33" textLength="20.2" lengthAdjust="spacing" >100</text>
<line x1="388.9" y1="399.4" x2="388.9" y2="404.2" stroke="#555" stroke-width="0.9"/>
<text x="388.9" y="420.5" font-size="11.60" text-anchor="middle" font-weight="normal" font-style="normal" fill="#111" stroke="#111" stroke-width="0.33" >0</text>
<line x1="412.6" y1="399.4" x2="412.6" y2="404.2" stroke="#555" stroke-width="0.9"/>
<text x="412.6" y="420.5" font-size="11.60" text-anchor="middle" font-weight="normal" font-style="normal" fill="#111" stroke="#111" stroke-width="0.33" >2</text>
<line x1="436.2" y1="399.4" x2="436.2" y2="404.2" stroke="#555" stroke-width="0.9"/>
<text x="436.2" y="420.5" font-size="11.60" text-anchor="middle" font-weight="normal" font-style="normal" fill="#111" stroke="#111" stroke-width="0.33" >4</text>
<line x1="459.9" y1="399.4" x2="459.9" y2="404.2" stroke="#555" stroke-width="0.9"/>
<text x="459.9" y="420.5" font-size="11.60" text-anchor="middle" font-weight="normal" font-style="normal" fill="#111" stroke="#111" stroke-width="0.33" >6</text>
<line x1="483.5" y1="399.4" x2="483.5" y2="404.2" stroke="#555" stroke-width="0.9"/>
<text x="483.5" y="420.5" font-size="11.60" text-anchor="middle" font-weight="normal" font-style="normal" fill="#111" stroke="#111" stroke-width="0.33" >8</text>
<line x1="507.2" y1="399.4" x2="507.2" y2="404.2" stroke="#555" stroke-width="0.9"/>
<text x="507.2" y="420.5" font-size="11.60" text-anchor="middle" font-weight="normal" font-style="normal" fill="#111" stroke="#111" stroke-width="0.33" textLength="13.6" lengthAdjust="spacing" >10</text>
<polyline points="400.7,379.7 424.4,369.0 459.9,374.9 495.4,363.7" fill="none" stroke="#868686" stroke-width="1.0"/>
<polyline points="400.7,376.6 424.4,359.5 459.9,316.5 495.4,307.1" fill="none" stroke="#2a2a2a" stroke-width="1.05"/>
<path d="M400.7 365.2L403.7 368.2L400.7 371.2L397.8 368.2Z" fill="#0a0a0a"/>
<path d="M400.7 374.1L403.7 377.1L400.7 380.1L397.8 377.1Z" fill="#0a0a0a"/>
<path d="M400.7 379.3L403.7 382.3L400.7 385.3L397.8 382.3Z" fill="#0a0a0a"/>
<path d="M424.4 348.2L427.4 351.2L424.4 354.1L421.4 351.2Z" fill="#0a0a0a"/>
<path d="M424.4 361.1L427.4 364.0L424.4 367.0L421.4 364.0Z" fill="#0a0a0a"/>
<path d="M424.4 362.1L427.4 365.1L424.4 368.0L421.4 365.1Z" fill="#0a0a0a"/>
<path d="M459.9 303.3L462.9 306.2L459.9 309.2L456.9 306.2Z" fill="#0a0a0a"/>
<path d="M459.9 324.8L462.9 327.8L459.9 330.7L456.9 327.8Z" fill="#0a0a0a"/>
<path d="M495.4 303.8L498.3 306.8L495.4 309.7L492.4 306.8Z" fill="#0a0a0a"/>
<path d="M495.4 304.6L498.3 307.6L495.4 310.6L492.4 307.6Z" fill="#0a0a0a"/>
<rect x="398.5" y="370.2" width="4.4" height="4.4" fill="#7f7f7f"/>
<rect x="398.5" y="385.9" width="4.4" height="4.4" fill="#7f7f7f"/>
<rect x="422.2" y="355.6" width="4.4" height="4.4" fill="#7f7f7f"/>
<rect x="422.2" y="378.5" width="4.4" height="4.4" fill="#7f7f7f"/>
<rect x="457.7" y="366.5" width="4.4" height="4.4" fill="#7f7f7f"/>
<rect x="457.7" y="378.2" width="4.4" height="4.4" fill="#7f7f7f"/>
<rect x="493.2" y="361.5" width="4.4" height="4.4" fill="#7f7f7f"/>
<text x="457.0" y="397.7" font-size="14.50" text-anchor="start" font-weight="normal" font-style="normal" fill="#111" stroke="#111" stroke-width="0.35" textLength="47.7" lengthAdjust="spacing" >CD8 SP</text>
<text transform="translate(352.3 250.1) rotate(-90)" font-size="19.00" fill="#111" stroke="#111" stroke-width="0.32">%</text>
<text transform="translate(352.3 230.2) rotate(-90)" font-size="19.00" fill="#111" stroke="#111" stroke-width="0.32" textLength="39.6" lengthAdjust="spacing">BrdU</text>
<text transform="translate(352.2 187.8) rotate(-90)" font-size="19.60" fill="#111" stroke="#111" stroke-width="0.32">+</text>
<text x="378.0" y="439.7" font-size="18.90" text-anchor="start" font-weight="normal" font-style="normal" fill="#111" stroke="#111" stroke-width="0.32" textLength="140.2" lengthAdjust="spacing" >labeling time (days)</text>
<path d="M369.6 454.3L372.9 457.6L369.6 460.9L366.3 457.6Z" fill="#0a0a0a"/>
<rect x="367.1" y="472.6" width="4.5" height="4.5" fill="#7c7c7c"/>
<text x="378.1" y="463.6" font-size="19.00" text-anchor="start" font-weight="normal" font-style="normal" fill="#111" stroke="#111" stroke-width="0.32" textLength="49.4" lengthAdjust="spacing" >control</text>
<text x="377.7" y="481.2" font-size="19.00" text-anchor="start" font-weight="normal" font-style="normal" fill="#111" stroke="#111" stroke-width="0.32" textLength="68.2" lengthAdjust="spacing" >CD4Cre-</text>
<text x="444.6" y="481.2" font-size="19.00" text-anchor="start" font-weight="normal" font-style="italic" fill="#111" stroke="#111" stroke-width="0.32" textLength="45.6" lengthAdjust="spacing" >Ctnnb</text>
<path d="M490.7 474.5L493.7 467.8L496.7 474.5Z" fill="none" stroke="#444" stroke-width="0.7" stroke-linejoin="miter"/>
<line x1="493.8" y1="468.1" x2="496.5" y2="474.5" stroke="#333" stroke-width="1.1"/>
<text x="497.0" y="474.6" font-size="10.60" text-anchor="start" font-weight="normal" font-style="normal" fill="#111" stroke="#111" stroke-width="0.30" textLength="14.5" lengthAdjust="spacing" >ex3</text>
</svg>
</body></html>
